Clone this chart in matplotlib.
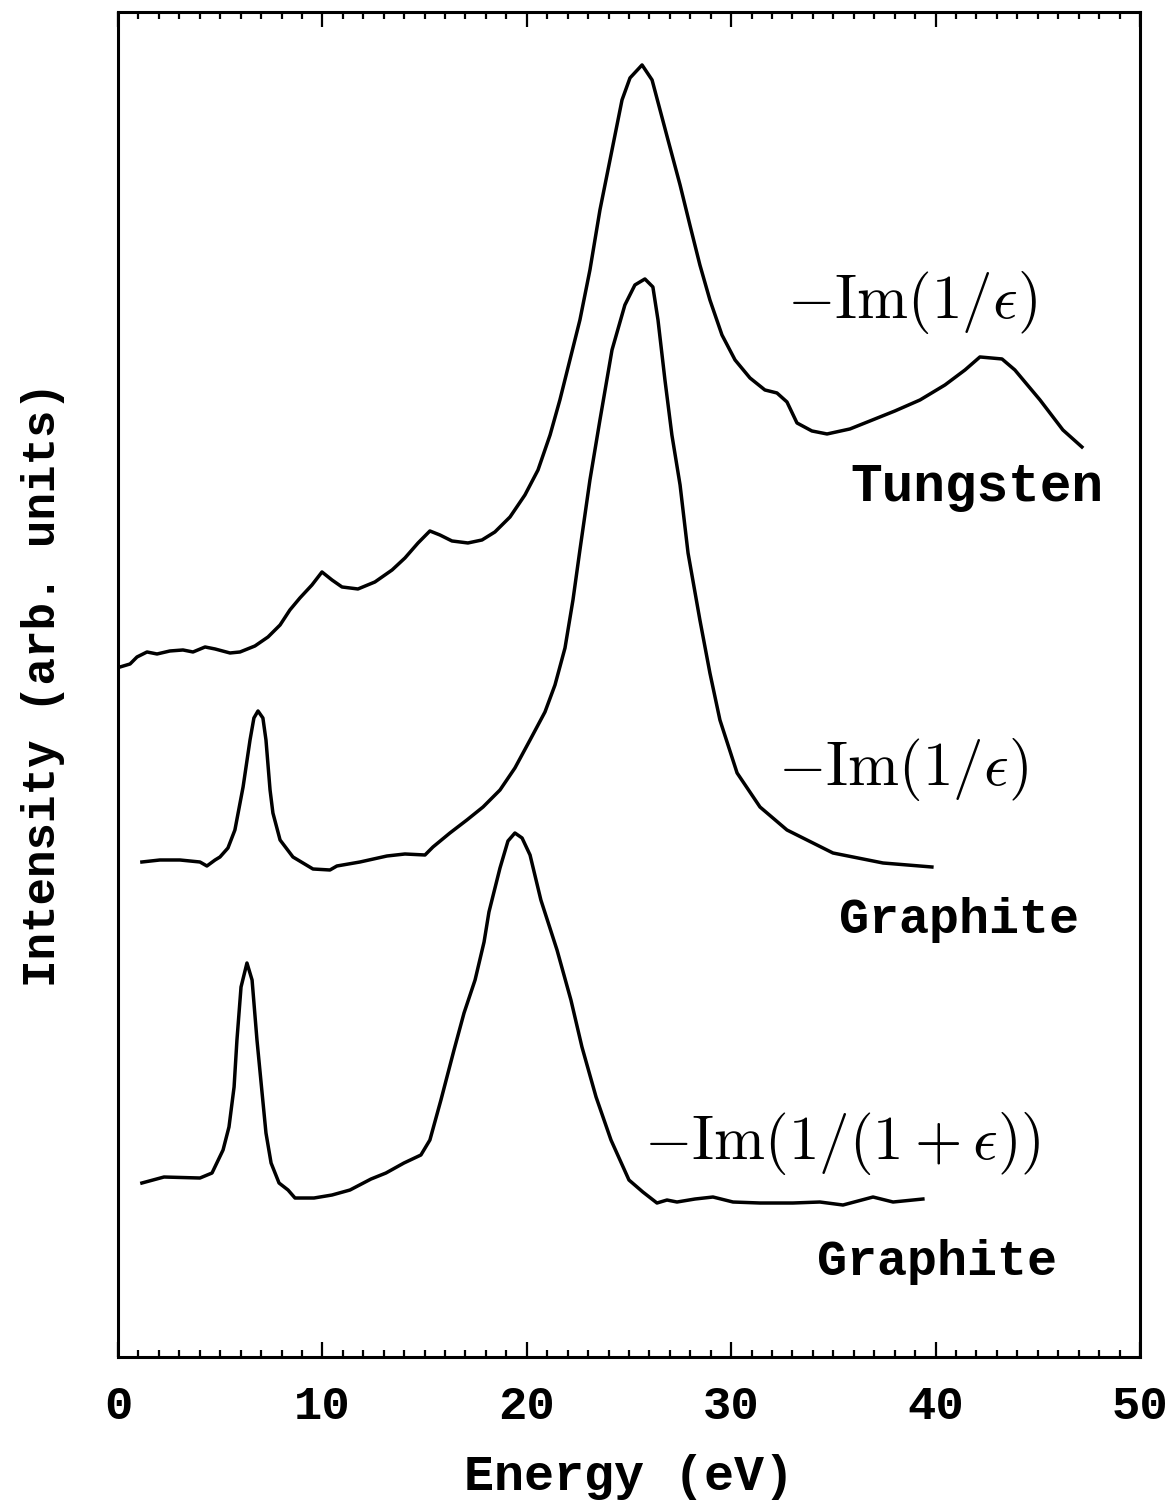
import matplotlib.pyplot as plt
import numpy as np
from matplotlib.ticker import MultipleLocator

plt.rcParams['mathtext.fontset'] = 'cm'

# Tungsten -Im(1/eps)
e_w = [0.10, 0.59, 0.93, 1.42, 1.91, 2.54, 3.18, 3.67, 4.26, 4.75, 5.48, 5.97,
       6.70, 7.34, 7.93, 8.41, 8.90, 9.49, 9.98, 10.47, 10.96, 11.74, 12.57,
       13.41, 14.04, 14.68, 15.26, 15.75, 16.34, 17.12, 17.81, 18.44, 19.18,
       19.91, 20.55, 21.14, 21.62, 22.11, 22.60, 23.09, 23.58, 24.17, 24.66,
       25.05, 25.64, 26.13, 26.52, 26.91, 27.50, 27.98, 28.47, 28.96, 29.55,
       30.19, 30.92, 31.65, 32.24, 32.73, 33.22, 33.95, 34.69, 35.81, 36.79,
       38.01, 39.24, 40.46, 41.44, 42.17, 43.25, 43.88, 45.11, 46.23, 47.16]
i_w = [69.0, 69.3, 70.0, 70.5, 70.3, 70.6, 70.7, 70.5, 71.0, 70.8, 70.4, 70.5,
       71.1, 72.0, 73.2, 74.7, 75.9, 77.2, 78.5, 77.7, 77.0, 76.8, 77.5,
       78.7, 79.9, 81.4, 82.6, 82.2, 81.6, 81.4, 81.7, 82.5, 84.0,
       86.2, 88.7, 92.2, 95.7, 99.7, 103.7, 108.7, 114.7, 120.7, 125.7,
       127.9, 129.2, 127.7, 124.7, 121.7, 117.2, 113.2, 109.2, 105.7, 102.2,
       99.7, 97.9, 96.7, 96.4, 95.5, 93.4, 92.6, 92.3, 92.8, 93.6,
       94.6, 95.7, 97.2, 98.7, 100.0, 99.8, 98.7, 95.7, 92.7, 91.0]

# Graphite -Im(1/eps)
e_g = [1.17, 2.05, 3.03, 4.01, 4.35, 4.75, 4.99, 5.38, 5.72, 6.12, 6.46, 6.65,
       6.85, 7.09, 7.24, 7.44, 7.58, 7.93, 8.56, 9.54, 10.37, 10.71, 11.84,
       13.16, 14.04, 15.02, 15.41, 16.24, 17.07, 17.86, 18.69, 19.42, 20.16,
       20.89, 21.38, 21.87, 22.26, 22.60, 23.09, 23.58, 24.17, 24.80, 25.29,
       25.78, 26.17, 26.42, 26.76, 27.10, 27.50, 27.89, 28.47, 28.96, 29.45,
       30.29, 31.41, 32.73, 34.98, 37.43, 39.82]
i_g = [49.5, 49.7, 49.7, 49.5, 49.1, 49.7, 50.0, 50.9, 52.7, 57.0, 61.7, 63.9,
       64.6, 63.9, 61.7, 56.7, 54.4, 51.7, 50.0, 48.8, 48.7, 49.1, 49.5,
       50.1, 50.3, 50.2, 51.0, 52.4, 53.7, 55.0, 56.7, 58.9, 61.7,
       64.5, 67.2, 70.9, 75.7, 80.7, 87.7, 93.7, 100.7, 105.2, 107.2,
       107.8, 107.0, 103.7, 97.7, 92.2, 87.2, 80.4, 73.7, 68.4, 63.7,
       58.4, 55.0, 52.7, 50.4, 49.4, 49.0]

# Graphite -Im(1/(1+eps))
e_s = [1.17, 2.25, 4.01, 4.60, 5.14, 5.43, 5.68, 5.82, 6.02, 6.31, 6.56, 6.80,
       7.05, 7.24, 7.49, 7.88, 8.32, 8.66, 9.59, 10.47, 11.35, 12.38, 13.11,
       13.99, 14.82, 15.26, 15.80, 16.44, 16.93, 17.47, 17.91, 18.15, 18.69,
       19.08, 19.42, 19.77, 20.16, 20.69, 21.48, 22.16, 22.70, 23.39, 24.12,
       25.00, 25.68, 26.37, 26.86, 27.35, 28.23, 29.11, 30.09, 31.41, 33.02,
       34.34, 35.47, 36.94, 37.92, 39.38]
i_s = [17.4, 18.0, 17.9, 18.4, 20.7, 23.0, 27.0, 31.7, 37.0, 39.4, 37.7, 31.7,
       26.4, 22.4, 19.4, 17.4, 16.7, 15.9, 15.9, 16.2, 16.7, 17.8, 18.4,
       19.4, 20.2, 21.7, 25.7, 30.7, 34.4, 37.7, 41.5, 44.5, 48.9,
       51.6, 52.4, 51.9, 50.2, 45.7, 40.7, 35.7, 31.0, 26.0, 21.7,
       17.7, 16.5, 15.4, 15.7, 15.5, 15.8, 16.0, 15.5, 15.4, 15.4,
       15.5, 15.2, 16.0, 15.5, 15.8]

fig = plt.figure(figsize=(11.74, 15.12), dpi=100)
ax = fig.add_axes([0.1005, 0.1025, 0.8705, 0.8896])

for e, i in [(e_w, i_w), (e_g, i_g), (e_s, i_s)]:
    ax.plot(e, i, color='black', lw=2.5, solid_joinstyle='round')

ax.set_xlim(0, 50)
ax.set_ylim(0, 134.5)
ax.xaxis.set_major_locator(MultipleLocator(10))
ax.xaxis.set_minor_locator(MultipleLocator(1))
ax.set_yticks([])
ax.tick_params(axis='x', which='both', direction='in', top=True, bottom=True,
               width=1.6, color='black')
ax.tick_params(axis='x', which='major', length=11, pad=20)
ax.tick_params(axis='x', which='minor', length=5)
for s in ax.spines.values():
    s.set_linewidth(2.2)

mono = 'Liberation Mono'
for lab in ax.get_xticklabels():
    lab.set_fontfamily(mono)
    lab.set_fontsize(34)
    lab.set_fontweight('bold')
ax.set_xlabel('Energy (eV)', fontfamily=mono, fontsize=36, fontweight='bold',
              labelpad=18)
ax.set_ylabel('Intensity (arb. units)', fontfamily=mono, fontsize=33,
              fontweight='bold', labelpad=38)

ax.text(38.85, 105.4, r'$-\mathrm{Im}(1/\epsilon)$', fontsize=44,
        ha='center', va='center')
ax.text(42.0, 87.0, 'Tungsten', fontfamily=mono, fontsize=38,
        fontweight='bold', ha='center', va='center')
ax.text(38.4, 58.7, r'$-\mathrm{Im}(1/\epsilon)$', fontsize=44,
        ha='center', va='center')
ax.text(41.14, 43.7, 'Graphite', fontfamily=mono, fontsize=36,
        fontweight='bold', ha='center', va='center')
ax.text(35.42, 21.4, r'$-\mathrm{Im}(1/(1+\epsilon))$', fontsize=44,
        ha='center', va='center')
ax.text(40.07, 9.5, 'Graphite', fontfamily=mono, fontsize=36,
        fontweight='bold', ha='center', va='center')

fig.savefig('out.png', dpi=100)
